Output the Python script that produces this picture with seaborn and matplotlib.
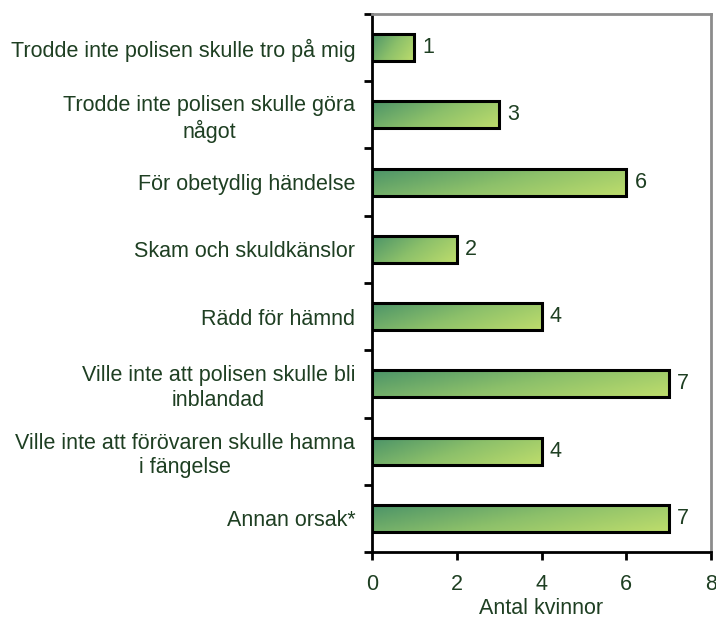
import matplotlib
matplotlib.use("Agg")
import matplotlib.pyplot as plt
import numpy as np
import pandas as pd
import seaborn as sns
from matplotlib.colors import LinearSegmentedColormap

CATEGORIES = [
    "Trodde inte polisen skulle tro på mig",
    "Trodde inte polisen skulle göra\nnågot",
    "För obetydlig händelse",
    "Skam och skuldkänslor",
    "Rädd för hämnd",
    "Ville inte att polisen skulle bli\ninblandad",
    "Ville inte att förövaren skulle hamna\ni fängelse",
    "Annan orsak*",
]
COUNTS = [1, 3, 6, 2, 4, 7, 4, 7]
X_TICKS = [0, 2, 4, 6, 8]
X_LABEL = "Antal kvinnor"

TEXT_COLOR = "#1e3f22"
FS = 15.5
GRADIENT = LinearSegmentedColormap.from_list("grn", ["#4c9468", "#8cc06a", "#bedd6c"])


def main() -> None:
    sns.set_style("white")
    plt.rcParams["font.family"] = ["Liberation Sans", "DejaVu Sans"]

    df = pd.DataFrame({"reason": CATEGORIES, "count": COUNTS})

    fig = plt.figure(figsize=(7.16, 6.3), dpi=100)
    ax = fig.add_axes([0.5196, 0.1238, 0.4735, 0.854])

    sns.barplot(data=df, y="reason", x="count", orient="h", width=0.4,
                color="#8cc06a", edgecolor="black", linewidth=2.2, ax=ax, zorder=2)

    # gradient fill per bar, dark top-left to light bottom-right
    gx, gy = np.meshgrid(np.linspace(0, 1, 200), np.linspace(0, 1, 20))
    grad = 0.7 * gx + 0.3 * gy
    for patch in ax.patches:
        x0, y0 = patch.get_x(), patch.get_y()
        w, h = patch.get_width(), patch.get_height()
        im = ax.imshow(grad, cmap=GRADIENT, aspect="auto", origin="upper",
                       extent=[x0, x0 + w, y0 + h, y0], zorder=2.5,
                       interpolation="bilinear")
        im.set_clip_path(patch)
        patch.set_facecolor("none")
        patch.set_zorder(3)

    for container in ax.containers:
        ax.bar_label(container, padding=6, fontsize=FS, color=TEXT_COLOR)

    ax.set_xlim(0, 8)
    ax.set_ylim(len(CATEGORIES) - 0.5, -0.5)
    ax.set_xticks(X_TICKS)
    ax.set_xticklabels([str(t) for t in X_TICKS])
    ax.set_xlabel(X_LABEL, fontsize=FS, color=TEXT_COLOR, labelpad=2)
    ax.set_ylabel("")

    ax.set_yticks(range(len(CATEGORIES)))
    ax.set_yticklabels(CATEGORIES, fontsize=FS, color=TEXT_COLOR,
                       multialignment="center")
    ax.set_yticks(np.arange(-0.5, len(CATEGORIES)), minor=True)
    ax.tick_params(axis="y", which="major", length=0, pad=12)
    ax.tick_params(axis="y", which="minor", length=6, width=2, color="black",
                   direction="out", left=True)
    ax.tick_params(axis="x", length=6, width=2, color="black", direction="out",
                   bottom=True, labelsize=FS, labelcolor=TEXT_COLOR, pad=10)

    for side in ("left", "bottom"):
        ax.spines[side].set_color("black")
        ax.spines[side].set_linewidth(2)
    for side in ("top", "right"):
        ax.spines[side].set_color("#8c8c8c")
        ax.spines[side].set_linewidth(2)

    fig.savefig("out.png", dpi=100)
    plt.close(fig)


if __name__ == "__main__":
    main()
